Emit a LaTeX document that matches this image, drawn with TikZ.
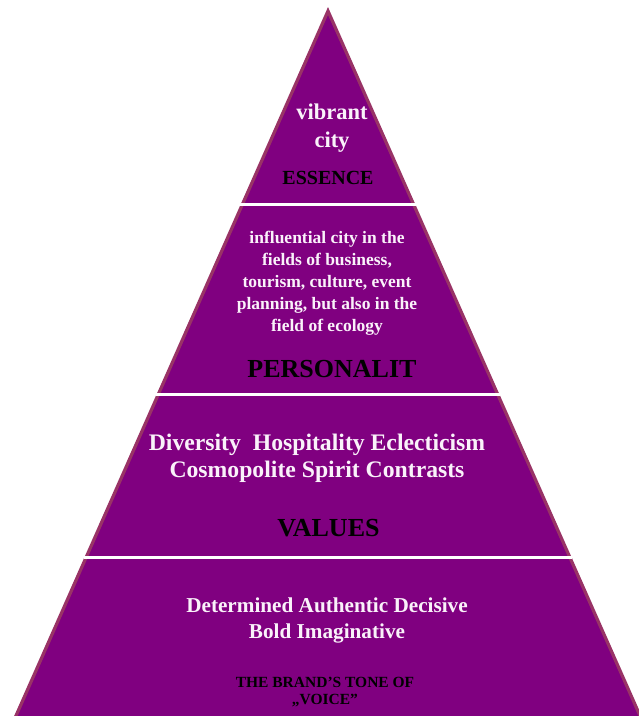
\documentclass[tikz,border=0pt]{standalone}
\usepackage{fontspec}
\setmainfont{Liberation Serif}
\usetikzlibrary{calc}
\definecolor{pyrfill}{HTML}{800080}
\definecolor{pyrborder}{HTML}{993366}
\definecolor{txtwhite}{HTML}{FAF2FA}
\tikzset{
  pyr/.style={fill=pyrfill, draw=pyrborder, line width=3.2pt, line join=miter},
  sepline/.style={draw=white, line width=3pt},
  wtext/.style={text=txtwhite, font=\bfseries, align=center, inner sep=0pt},
  btext/.style={text=black, font=\bfseries, align=center, inner sep=0pt}
}
\begin{document}
\begin{tikzpicture}[x=1pt,y=1pt]
\useasboundingbox (0,0) rectangle (639,716);
\clip (0,0) rectangle (639,716);
\coordinate (A) at (328,705);
\coordinate (L) at (15,-2);
\coordinate (R) at (641,-2);
\draw[pyr] (A) -- (L) -- (R) -- cycle;
\coordinate (s1l) at ($(A)!0.2744!(L)+(-2,0)$);
\coordinate (s1r) at ($(A)!0.2744!(R)+(2,0)$);
\coordinate (s2l) at ($(A)!0.5431!(L)+(-2,0)$);
\coordinate (s2r) at ($(A)!0.5431!(R)+(2,0)$);
\coordinate (s3l) at ($(A)!0.7723!(L)+(-2,0)$);
\coordinate (s3r) at ($(A)!0.7723!(R)+(2,0)$);
\draw[sepline] (s1l) -- (s1r);
\draw[sepline] (s2l) -- (s2r);
\draw[sepline] (s3l) -- (s3r);

\node[wtext, font=\fontsize{22.5}{28}\selectfont\bfseries] (vib) at (332,588) {vibrant\\city};
\node[btext, font=\fontsize{20}{24}\selectfont\bfseries] (ess) at (328,538) {ESSENCE};
\node[wtext, font=\fontsize{17.5}{22}\selectfont\bfseries] (infl) at (327,433)
  {influential city in the\\fields of business,\\tourism, culture, event\\planning, but also in the\\field of ecology};
\node[btext, font=\fontsize{26}{30}\selectfont\bfseries] (pers) at (332,347) {PERSONALIT};
\node[wtext, font=\fontsize{23.7}{27}\selectfont\bfseries] (vals) at (317,258)
  {Diversity\ \ Hospitality Eclecticism\\Cosmopolite Spirit Contrasts};
\node[btext, font=\fontsize{26}{30}\selectfont\bfseries] (valt) at (328.5,188) {VALUES};
\node[wtext, font=\fontsize{21.2}{26}\selectfont\bfseries] (tone) at (327,96)
  {Determined Authentic Decisive\\Bold Imaginative};
\node[btext, font=\fontsize{15.5}{17.5}\selectfont\bfseries] (brand) at (325,24)
  {THE BRAND’S TONE OF\\„VOICE”};
\end{tikzpicture}
\end{document}
